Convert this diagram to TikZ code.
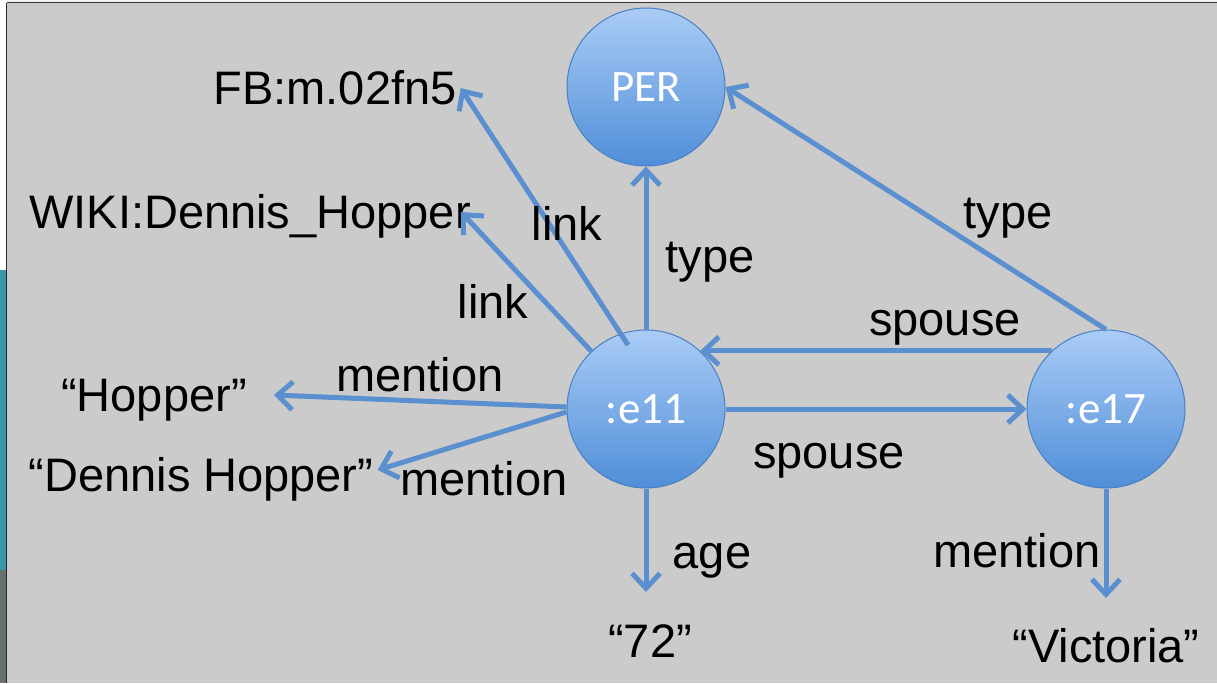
\documentclass[tikz,border=0pt]{standalone}
\usepackage{fontspec}
\setmainfont{Liberation Sans}
\newfontfamily\calfont{Carlito}
\usetikzlibrary{arrows.meta}
\definecolor{bg}{HTML}{CBCBCB}
\definecolor{edge}{HTML}{5A8FD0}
\definecolor{ctop}{HTML}{AACCF6}
\definecolor{cbot}{HTML}{4F8ED8}
\definecolor{cbord}{HTML}{4A80C2}
\definecolor{teal}{HTML}{3B98A8}
\definecolor{dgray}{HTML}{676F71}
\tikzset{
  ent/.style={circle, minimum size=158pt, inner sep=0pt, draw=cbord, line width=1pt,
    top color=ctop, bottom color=cbot, text=white, font=\calfont\fontsize{45}{48}\selectfont},
  lbl/.style={inner sep=0pt, text=black, font=\fontsize{47}{52}\selectfont},
  arr/.style={draw=edge, line width=5pt, -{Straight Barb[length=15pt,width=28pt,line width=5pt]}}
}
\begin{document}
\begin{tikzpicture}[x=1pt,y=-1pt]
\useasboundingbox (0,0) rectangle (1217,683);
\fill[bg] (0,0) rectangle (1217,683);
% screenshot edges
\fill[white] (0,0) rectangle (6,270);
\fill[teal] (0,270) rectangle (6,570);
\fill[dgray] (0,570) rectangle (6,683);
\fill[white!95!black] (6,0) rectangle (1217,2.5);
\draw[black!80, line width=1.2pt] (6.5,2.5) -- (1217,2.5);
\draw[black!85, line width=1.5pt] (6.5,2.5) -- (6.5,683);

% entity circles
\node[ent] (per) at (646,87) {\raisebox{-5pt}{PER}};
\node[ent] (e11) at (646,409) {\raisebox{-4pt}{:e11}};
\node[ent] (e17) at (1106,409) {\raisebox{-4pt}{:e17}};

% value texts
\node[lbl, anchor=base] (fb) at (335,104) {FB:m.02fn5};
\node[lbl, anchor=base] (wiki) at (250,228) {WIKI:Dennis\_Hopper};
\node[lbl, anchor=base] (hop) at (154,411) {“Hopper”};
\node[lbl, anchor=base] (dh) at (201,491) {“Dennis Hopper”};
\node[lbl, anchor=base] (n72) at (650,657) {“72”};
\node[lbl, anchor=base] (vic) at (1106,662) {“Victoria”};

% connectors
\draw[arr] (e11.north) -- (per.south);
\draw[arr] ([shift={(-18,-64)}]e11.center) -- ([shift={(4,-16)}]fb.base east);
\draw[arr] ([shift={(-54,-57)}]e11.center) -- ([shift={(-10,-16)}]wiki.base east);
\draw[arr] ([shift={(0,-2)}]e11.west) -- ([shift={(27,-16)}]hop.base east);
\draw[arr] ([shift={(0,3)}]e11.west) -- ([shift={(4,-21)}]dh.base east);
\draw[arr] (e11.south) -- ([shift={(-4,-65)}]n72.base);
\draw[arr] (e11.east) -- (e17.west);
\draw[arr] (e17.133) -- (e11.47);
\draw[arr] (e17.north) -- (per.east);
\draw[arr] (e17.south) -- ([shift={(0,-64)}]vic.base);

% edge labels
\node[lbl, anchor=base] (l1) at (567,240) {link};
\node[lbl, anchor=base] (l2) at (493,318) {link};
\node[lbl, anchor=base] (t1) at (710,272) {type};
\node[lbl, anchor=base] (t2) at (1008,228) {type};
\node[lbl, anchor=base] (s1) at (945,335) {spouse};
\node[lbl, anchor=base] (s2) at (829,468) {spouse};
\node[lbl, anchor=base] (m1) at (420,391) {mention};
\node[lbl, anchor=base] (m2) at (484,495) {mention};
\node[lbl, anchor=base] (ag) at (712,568) {age};
\node[lbl, anchor=base] (m3) at (1017,567) {mention};
\end{tikzpicture}
\end{document}
